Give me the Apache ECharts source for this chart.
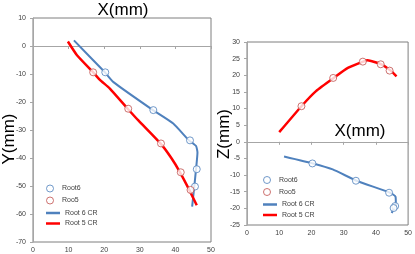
<!DOCTYPE html>
<html>
<head>
<meta charset="utf-8">
<script src="https://cdn.jsdelivr.net/npm/echarts@6/dist/echarts.min.js"></script>
<style>html,body{margin:0;padding:0;background:#fff}#c{width:415px;height:254px}</style>
</head>
<body>
<div id="c"></div>
<script>
// ---- Data ----
// Root 6 CR centerline (X–Y view)
var root6CR_XY_x = [11.5, 20.2, 22.6, 33.7, 39.4, 43.8, 45.8, 46.2, 45.8, 45.3, 44.7];
var root6CR_XY_y = [2.0, -9.4, -12.9, -22.9, -27.7, -33.7, -35.7, -38.0, -44.0, -50.2, -57.4];
// Root 5 CR centerline (X–Y view)
var root5CR_XY_x = [9.8, 12.3, 16.9, 18.8, 21.6, 26.6, 29.6, 35.8, 38.9, 41.3, 43.9, 46.0];
var root5CR_XY_y = [1.6, -3.2, -9.4, -12.1, -15.2, -22.4, -26.6, -34.8, -40.1, -45.1, -51.4, -56.9];
// Root 6 CR centerline (X–Z view)
var root6CR_XZ_x = [11.5, 20.5, 26.6, 34.0, 44.4, 46.1, 46.2, 45.7, 44.9];
var root6CR_XZ_z = [-4.4, -6.5, -8.3, -11.7, -15.3, -16.5, -19.3, -19.9, -21.4];
// Root 5 CR centerline (X–Z view)
var root5CR_XZ_x = [10.0, 16.9, 21.5, 26.9, 31.3, 36.1, 37.4, 41.7, 44.6, 46.4];
var root5CR_XZ_z = [2.9, 10.7, 15.3, 19.2, 22.2, 24.1, 24.5, 23.3, 21.4, 19.7];
// Measured points
var root6_x = [20.3, 33.8, 44.1, 46.0, 45.5];
var root6_y = [-9.4, -22.9, -33.7, -44.0, -50.2];
var root6_z = [-6.5, -11.7, -15.3, -19.3, -19.9];
var root5_x = [16.9, 26.75, 35.95, 41.5, 44.25];
var root5_y = [-9.4, -22.4, -34.8, -45.1, -51.4];
var root5_z = [10.7, 19.2, 24.1, 23.3, 21.4];
// Axis ticks
var xTicks = {min: 0, max: 50, interval: 10};
var yTicks = {min: -70, max: 10, interval: 10};
var zTicks = {min: -25, max: 30, interval: 5};
var pointNames = ['Root6', 'Roo5'];
var lineNames = ['Root 6 CR', 'Root 5 CR'];
var axisTitles = {x: 'X(mm)', y: 'Y(mm)', z: 'Z(mm)'};

function zip(a, b) { return a.map(function (v, i) { return [v, b[i]]; }); }

var BLUE = '#4F81BD', RED = '#FF0000', RED_MK = '#C0504D';
var FONT = 'Liberation Sans';
var labelStyle = {fontSize: 7, color: '#404040', fontFamily: FONT};

function xAxisCfg(gi) {
  return {
    type: 'value', gridIndex: gi, min: xTicks.min, max: xTicks.max, interval: xTicks.interval,
    axisLine: {onZero: true, lineStyle: {color: '#A6A6A6', width: 1}},
    axisTick: {show: true, length: 3, lineStyle: {color: '#A6A6A6'}},
    axisLabel: Object.assign({margin: 5}, labelStyle),
    splitLine: {show: false}
  };
}
function yAxisCfg(gi, t) {
  return {
    type: 'value', gridIndex: gi, min: t.min, max: t.max, interval: t.interval,
    axisLine: {show: true, onZero: false, lineStyle: {color: '#A6A6A6', width: 1}},
    axisTick: {show: true, length: 3, lineStyle: {color: '#A6A6A6'}},
    axisLabel: Object.assign({margin: 7}, labelStyle),
    splitLine: {show: false}
  };
}

function scatter(name, xi, data, color) {
  return {
    name: name, type: 'scatter', xAxisIndex: xi, yAxisIndex: xi, data: data,
    symbol: 'circle', symbolSize: 7, z: 5,
    itemStyle: {color: '#fff', borderColor: color, borderWidth: 1}
  };
}
function line(name, xi, data, color, w) {
  return {
    name: name, type: 'line', xAxisIndex: xi, yAxisIndex: xi, data: data,
    symbol: 'none', showSymbol: false, smooth: 0.15, z: 3,
    lineStyle: {color: color, width: w}, itemStyle: {color: color}
  };
}
var legendText = {fontSize: 7, color: '#404040', fontFamily: FONT};
function pointLegend(left, top) {
  return {
    orient: 'vertical', left: left, top: top, itemWidth: 14, itemHeight: 7, itemGap: 4,
    textStyle: legendText, icon: 'circle',
    itemStyle: {borderWidth: 1},
    data: pointNames
  };
}
function lineLegend(left, top) {
  return {
    orient: 'vertical', left: left, top: top, itemWidth: 14, itemHeight: 2.5, itemGap: 3.5,
    textStyle: legendText, icon: 'rect',
    data: lineNames
  };
}

var chart = echarts.init(document.getElementById('c'), null, {renderer: 'canvas'});
chart.setOption({
  animation: false,
  backgroundColor: '#fff',
  grid: [
    {left: 33, top: 18, width: 178, height: 234, show: true, borderColor: '#7F7F7F', borderWidth: 1, backgroundColor: 'transparent'},
    {left: 247, top: 42, width: 162, height: 183, show: true, borderColor: '#7F7F7F', borderWidth: 1, backgroundColor: 'transparent'}
  ],
  xAxis: [xAxisCfg(0), xAxisCfg(1)],
  yAxis: [yAxisCfg(0, yTicks), yAxisCfg(1, zTicks)],
  legend: [pointLegend(41, 179.5), lineLegend(41, 204.5), pointLegend(258, 171), lineLegend(258, 196)],
  series: [
    scatter(pointNames[0], 0, zip(root6_x, root6_y), BLUE),
    scatter(pointNames[1], 0, zip(root5_x, root5_y), RED_MK),
    line(lineNames[0], 0, zip(root6CR_XY_x, root6CR_XY_y), BLUE, 2),
    line(lineNames[1], 0, zip(root5CR_XY_x, root5CR_XY_y), RED, 2.5),
    scatter(pointNames[0], 1, zip(root6_x, root6_z), BLUE),
    scatter(pointNames[1], 1, zip(root5_x, root5_z), RED_MK),
    line(lineNames[0], 1, zip(root6CR_XZ_x, root6CR_XZ_z), BLUE, 2),
    line(lineNames[1], 1, zip(root5CR_XZ_x, root5CR_XZ_z), RED, 2.5)
  ],
  graphic: [
    {type: 'text', x: 123, y: 10, style: {text: axisTitles.x, fontSize: 17, fontFamily: FONT, fill: '#000', align: 'center', verticalAlign: 'middle'}},
    {type: 'text', x: 9, y: 139, rotation: Math.PI / 2, style: {text: axisTitles.y, fontSize: 17, fontFamily: FONT, fill: '#000', align: 'center', verticalAlign: 'middle'}},
    {type: 'text', x: 360, y: 131, style: {text: axisTitles.x, fontSize: 17, fontFamily: FONT, fill: '#000', align: 'center', verticalAlign: 'middle'}},
    {type: 'text', x: 224, y: 134, rotation: Math.PI / 2, style: {text: axisTitles.z, fontSize: 17, fontFamily: FONT, fill: '#000', align: 'center', verticalAlign: 'middle'}}
  ]
});
</script>
</body>
</html>
